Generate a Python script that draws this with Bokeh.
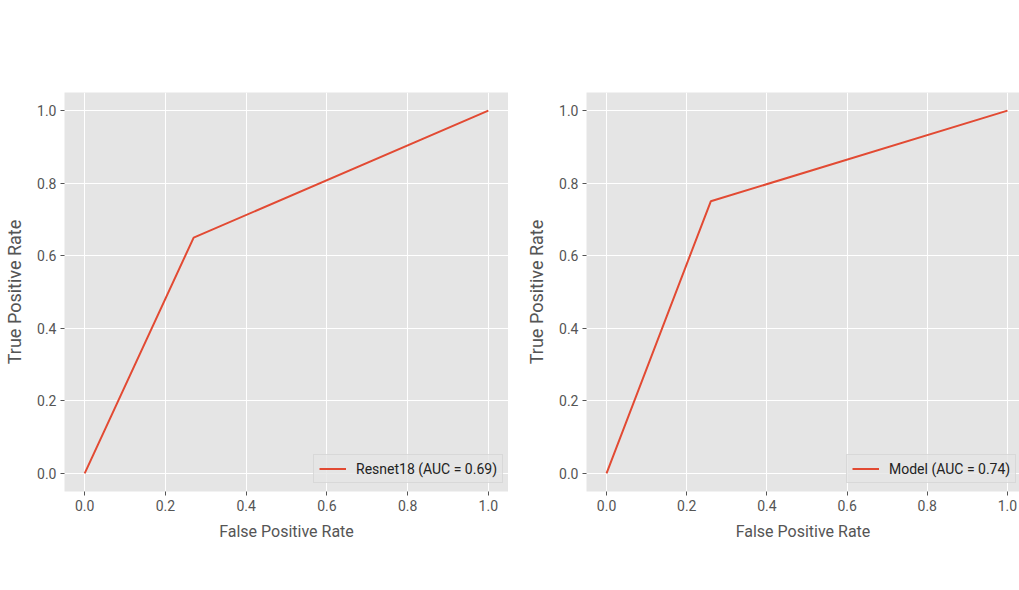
from bokeh.plotting import figure
from bokeh.layouts import row
from bokeh.models import FixedTicker, PrintfTickFormatter, Range1d, Legend, LegendItem
from bokeh.embed import file_html
from bokeh.resources import INLINE

# Data
resnet_fpr = [0.0, 0.27, 1.0]
resnet_tpr = [0.0, 0.65, 1.0]
resnet_label = "Resnet18 (AUC = 0.69)"

model_fpr = [0.0, 0.26, 1.0]
model_tpr = [0.0, 0.75, 1.0]
model_label = "Model (AUC = 0.74)"

ticks = [0.0, 0.2, 0.4, 0.6, 0.8, 1.0]
x_label = "False Positive Rate"
y_label = "True Positive Rate"

FONT = "Roboto"
LINE_COLOR = "#E24A33"
BG = "#E5E5E5"
TXT = "#555555"


def make_panel(fpr, tpr, label, x_end, frame_w, border_left, legend_loc):
    p = figure(frame_width=frame_w, frame_height=399,
               min_border_left=border_left, min_border_right=0,
               min_border_top=92, min_border_bottom=99,
               x_range=Range1d(-0.05, x_end), y_range=Range1d(-0.05, 1.05),
               output_backend="svg", toolbar_location=None)
    p.background_fill_color = BG
    p.border_fill_color = "white"
    p.outline_line_color = None
    r = p.line(fpr, tpr, line_color=LINE_COLOR, line_width=2)
    for ax in (p.xaxis[0], p.yaxis[0]):
        ax.ticker = FixedTicker(ticks=ticks)
        ax.formatter = PrintfTickFormatter(format="%.1f")
        ax.axis_line_color = None
        ax.major_tick_line_color = TXT
        ax.major_tick_out = 4
        ax.major_tick_in = 0
        ax.minor_tick_line_color = None
        ax.major_label_text_font = FONT
        ax.major_label_text_font_size = "14px"
        ax.major_label_text_color = TXT
        ax.major_label_standoff = 4
        ax.axis_label_text_font = FONT
        ax.axis_label_text_color = TXT
        ax.axis_label_text_font_style = "normal"
    p.xaxis.axis_label = x_label
    p.xaxis.axis_label_text_font_size = "16px"
    p.xaxis.axis_label_standoff = 8
    p.yaxis.axis_label = y_label
    p.yaxis.axis_label_text_font_size = "18px"
    p.yaxis.axis_label_standoff = 9
    p.grid.grid_line_color = "white"
    p.grid.grid_line_width = 1
    leg = Legend(items=[LegendItem(label=label, renderers=[r])],
                 location=legend_loc,
                 background_fill_color=BG, background_fill_alpha=0.8,
                 border_line_color="#CCCCCC", border_line_width=1,
                 label_text_font=FONT, label_text_font_size="14px",
                 label_text_color="#222222",
                 glyph_width=27, glyph_height=17, label_height=17,
                 label_standoff=10, padding=5, margin=0, spacing=0)
    p.add_layout(leg, "center")
    return p


left = make_panel(resnet_fpr, resnet_tpr, resnet_label, 1.05, 444, 64, (249, 8))
right = make_panel(model_fpr, model_tpr, model_label, 1.03, 433, 78, (260, 8))

layout = row(left, right, spacing=0)
open("out.html", "w").write(file_html(layout, INLINE))
